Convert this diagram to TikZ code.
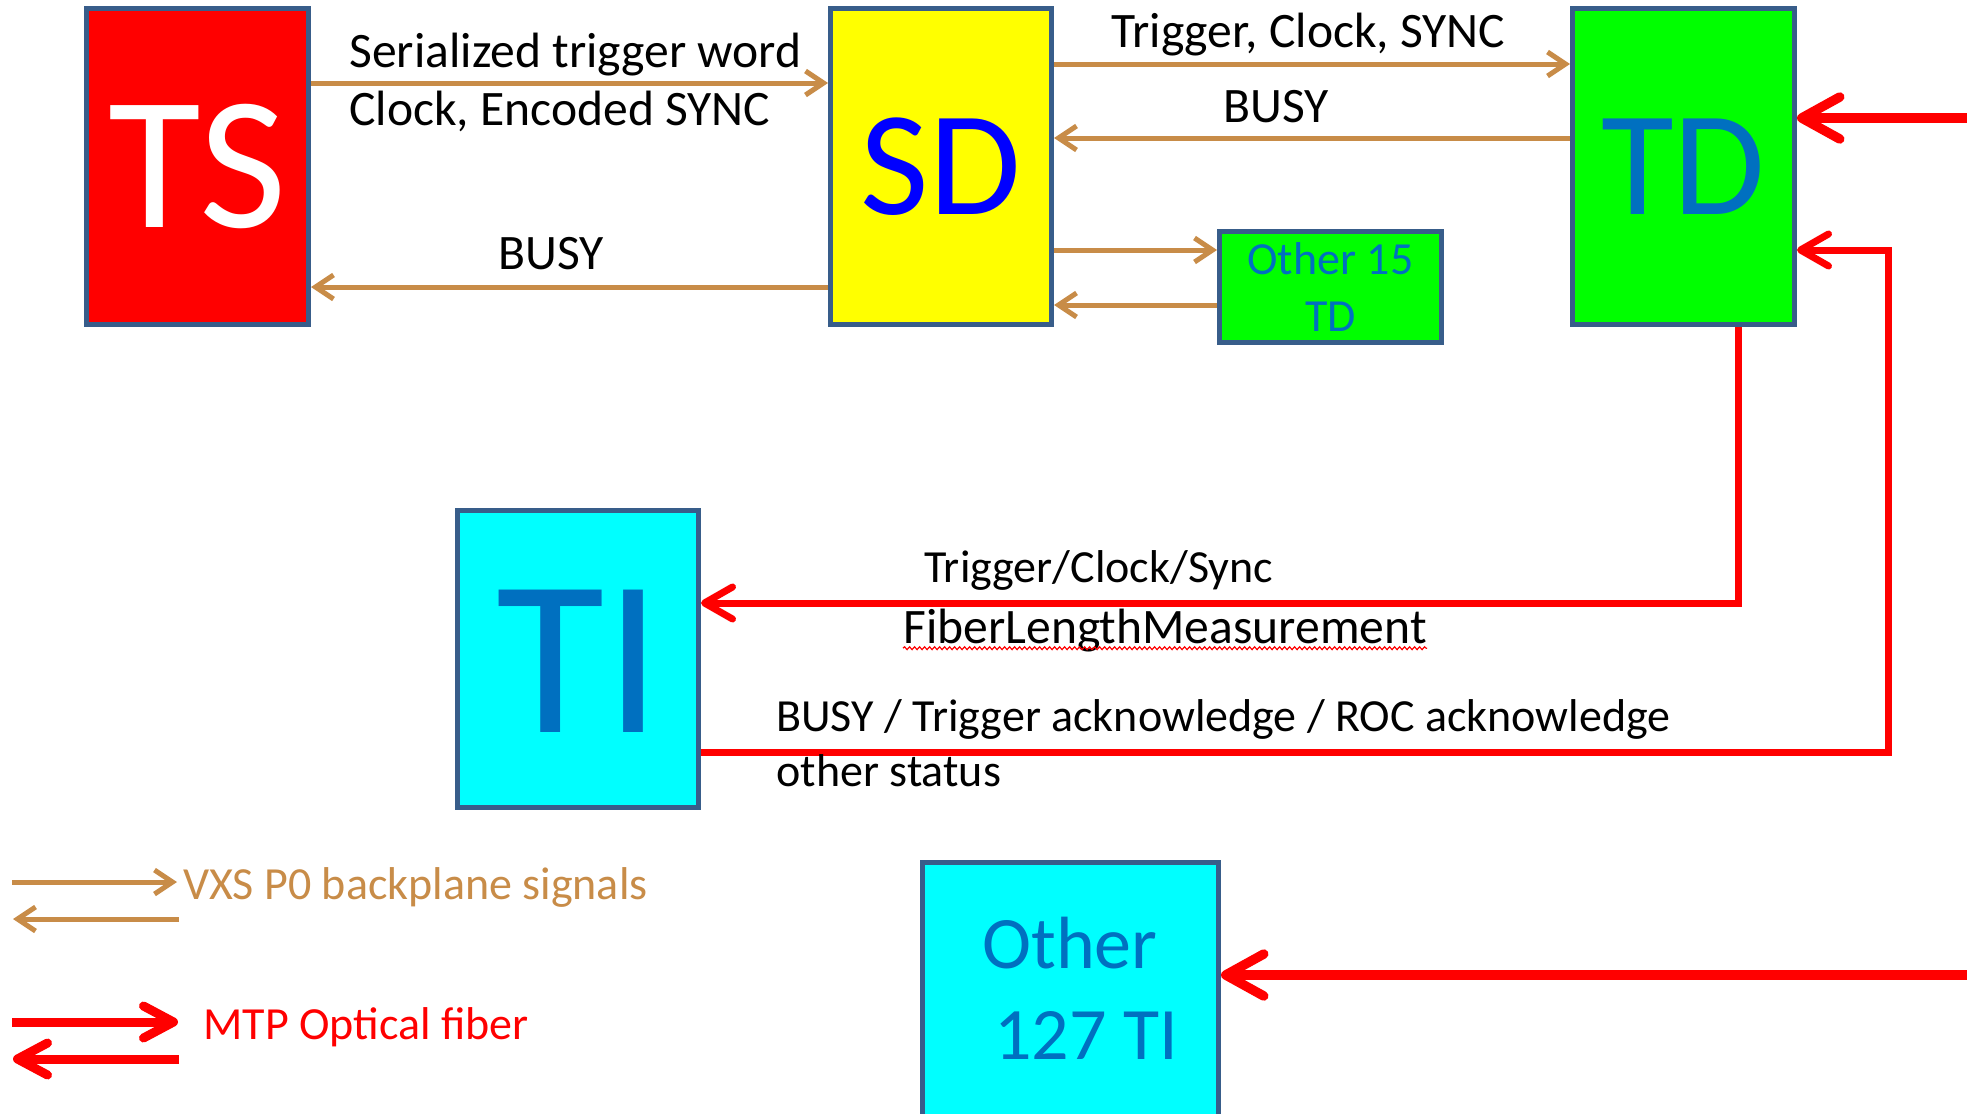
\documentclass[tikz,border=0pt]{standalone}
\usepackage{fontspec}
\setmainfont{Carlito}
\usetikzlibrary{arrows.meta,decorations.pathmorphing}
\definecolor{boxline}{RGB}{56,93,138}
\definecolor{wire}{RGB}{200,140,72}
\definecolor{fiber}{RGB}{255,0,0}
\definecolor{labelblue}{RGB}{0,112,192}
\definecolor{sdblue}{RGB}{0,0,255}
\definecolor{tsfill}{RGB}{255,0,0}
\definecolor{sdfill}{RGB}{255,255,0}
\definecolor{tdfill}{RGB}{0,255,0}
\definecolor{tifill}{RGB}{0,255,255}
\tikzset{
  card/.style={draw=boxline, line width=2.5pt, rectangle, anchor=north west,
    inner sep=0pt, outer sep=1.25pt},
  vxs/.style={draw=wire, line width=2.5pt,
    -{Straight Barb[length=9pt,width=12pt]}},
  mtp/.style={draw=fiber, line width=3.5pt,
    -{Straight Barb[length=14pt,width=16pt,round]}},
  mtpfeed/.style={draw=fiber, line width=4.75pt,
    -{Straight Barb[length=19pt,width=21pt,round]}},
  mtpkey/.style={draw=fiber, line width=4.5pt,
    -{Straight Barb[length=15pt,width=16pt,round]}},
  lbl/.style={anchor=base west, inner sep=0pt, font=\fontsize{24.8}{29}\selectfont},
  lbls/.style={anchor=base west, inner sep=0pt, font=\fontsize{23}{28}\selectfont},
}
\begin{document}
\begin{tikzpicture}[x=0.5pt,y=-0.5pt]
\useasboundingbox (0,0) rectangle (1967,1114);
\clip (0,0) rectangle (1967,1114);

% crates
\node[card, fill=tsfill, minimum width=111pt, minimum height=158pt,
  text=white, font=\fontsize{95}{95}\selectfont] (TS) at (84,6) {TS};
\node[card, fill=sdfill, minimum width=110.5pt, minimum height=158pt,
  text=sdblue, font=\fontsize{74.5}{75}\selectfont] (SD) at (828,6) {SD};
\node[card, fill=tdfill, minimum width=111pt, minimum height=158pt,
  text=labelblue, font=\fontsize{74.5}{75}\selectfont] (TD) at (1570,6) {TD};
\node[card, fill=tdfill, minimum width=111pt, minimum height=55.5pt,
  align=center, text=labelblue, font=\fontsize{23}{28.5}\selectfont] (O15) at (1217,229) {Other 15\\TD};
\node[card, fill=tifill, minimum width=120.5pt, minimum height=148.5pt] (TI) at (455,508) {};
\node[card, fill=tifill, minimum width=148pt, minimum height=130pt] (O127) at (920,860) {};

\node[inner sep=0pt, text=labelblue, font=\fontsize{111}{111}\selectfont] (tiname) at (579,661) {TI};
\node[anchor=base, inner sep=0pt, text=labelblue, font=\fontsize{37}{40}\selectfont] (o127a) at (1070,968) {Other};
\node[anchor=base, inner sep=0pt, text=labelblue, font=\fontsize{37}{40}\selectfont] (o127b) at (1086,1059) {127 TI};

% signal levels
\coordinate (yA) at (0,83);
\coordinate (yB) at (0,287);
\coordinate (yC) at (0,64);
\coordinate (yD) at (0,138);
\coordinate (yE) at (0,250);
\coordinate (yF) at (0,305);

% backplane links
\draw[vxs] (TS.east |- yA) -- (SD.west |- yA);
\draw[vxs] (SD.west |- yB) -- (TS.east |- yB);
\draw[vxs] (SD.east |- yC) -- (TD.west |- yC);
\draw[vxs] (TD.west |- yD) -- (SD.east |- yD);
\draw[vxs] (SD.east |- yE) -- (O15.west |- yE);
\draw[vxs] (O15.west |- yF) -- (SD.east |- yF);

% fiber links
\coordinate (xV1) at (1738,0);
\coordinate (yH1) at (0,603);
\coordinate (xV2) at (1888,0);
\coordinate (yH2) at (0,752);
\coordinate (yH3) at (0,250);
\coordinate (feedTD) at (1975,118);
\coordinate (feedTI) at (1975,975);
\draw[mtp] (TD.south -| xV1) -- (xV1 |- yH1) -- (TI.east |- yH1);
\draw[mtp] (TI.east |- yH2) -- (xV2 |- yH2) -- (xV2 |- yH3) -- (TD.east |- yH3);
\draw[mtpfeed] (feedTD) -- (TD.east |- feedTD);
\draw[mtpfeed] (feedTI) -- (O127.east |- feedTI);

% labels
\node[lbl] (t1) at (349,67) {Serialized trigger word};
\node[lbl] (t2) at (349,125) {Clock, Encoded SYNC};
\node[lbl] (t3) at (498,269) {BUSY};
\node[lbl] (t4) at (1111,47) {Trigger, Clock, SYNC};
\node[lbl] (t5) at (1223,122) {BUSY};
\node[lbls] (t6) at (924,582) {Trigger/Clock/Sync};
\node[lbl] (t7) at (903,643) {FiberLengthMeasurement};
\node[lbls] (t8) at (776,731) {BUSY / Trigger acknowledge / ROC acknowledge};
\node[lbls] (t9) at (776,786) {other status};
\draw[fiber, line width=0.6pt, decorate,
  decoration={snake, segment length=2.5pt, amplitude=0.7pt}]
  ([yshift=-2.6pt]t7.base west) -- ([yshift=-2.6pt]t7.base east);

% legend
\coordinate (l1a) at (12,882);
\coordinate (l1b) at (177,882);
\coordinate (l2a) at (179,919);
\coordinate (l2b) at (13,919);
\coordinate (l3a) at (12,1022);
\coordinate (l3b) at (178,1022);
\coordinate (l4a) at (179,1059);
\coordinate (l4b) at (13,1059);
\draw[vxs] (l1a) -- (l1b);
\draw[vxs] (l2a) -- (l2b);
\draw[mtpkey] (l3a) -- (l3b);
\draw[mtpkey] (l4a) -- (l4b);
\node[lbls, text=wire] (legv) at (183,899) {VXS P0 backplane signals};
\node[lbls, text=fiber] (legm) at (203,1039) {MTP Optical fiber};
\end{tikzpicture}
\end{document}
